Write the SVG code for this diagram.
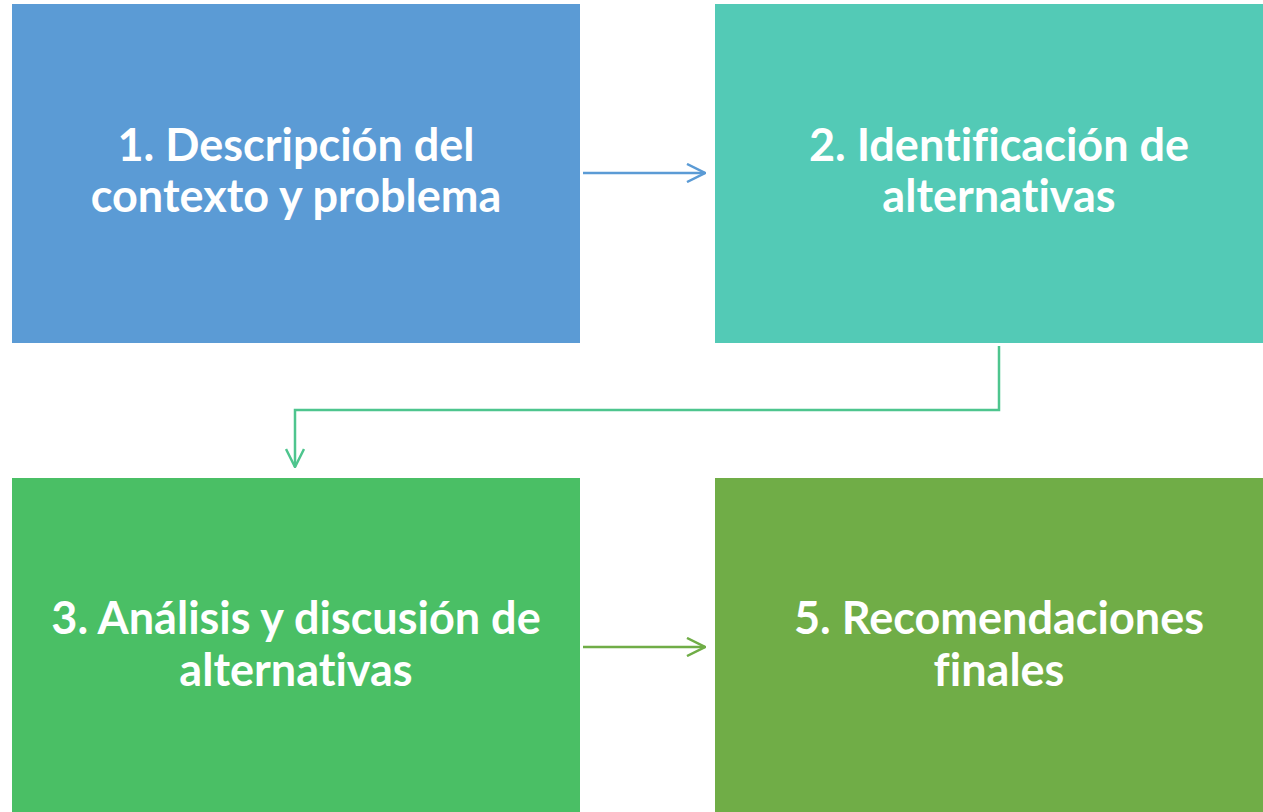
<svg xmlns="http://www.w3.org/2000/svg" width="1263" height="812" viewBox="0 0 1263 812">
<defs>
<style>
.lbl{font-family:Lato,"Liberation Sans",sans-serif;font-weight:bold;font-size:45px;fill:#ffffff;text-anchor:middle;font-variant-ligatures:none}
.c{fill:none;stroke-width:2.5}
</style>
<marker id="a1" viewBox="0 0 20 20" refX="19" refY="10" markerWidth="20" markerHeight="20" markerUnits="userSpaceOnUse" orient="auto"><path d="M1,1 L19,10 L1,19" fill="none" stroke="#5B9BD5" stroke-width="2.5"/></marker>
<marker id="a2" viewBox="0 0 20 20" refX="19" refY="10" markerWidth="20" markerHeight="20" markerUnits="userSpaceOnUse" orient="auto"><path d="M1,1 L19,10 L1,19" fill="none" stroke="#4EC58E" stroke-width="2.5"/></marker>
<marker id="a3" viewBox="0 0 20 20" refX="19" refY="10" markerWidth="20" markerHeight="20" markerUnits="userSpaceOnUse" orient="auto"><path d="M1,1 L19,10 L1,19" fill="none" stroke="#70AD47" stroke-width="2.5"/></marker>
</defs>
<rect width="1263" height="812" fill="#ffffff"/>
<g id="connectors">
<path class="c" d="M583,173 H705" stroke="#5B9BD5" marker-end="url(#a1)"/>
<path class="c" d="M999,346 V410 H295 V467" stroke="#4EC58E" marker-end="url(#a2)"/>
<path class="c" d="M583,647 H705" stroke="#70AD47" marker-end="url(#a3)"/>
</g>
<g id="n1">
<rect x="12" y="4" width="568" height="339" fill="#5B9BD5"/>
<text class="lbl" x="296" y="161">1. Descripción del</text>
<text class="lbl" x="296" y="212">contexto y problema</text>
</g>
<g id="n2">
<rect x="715" y="4" width="568" height="339" fill="#53CAB6"/>
<text class="lbl" x="999" y="161">2. Identificación de</text>
<text class="lbl" x="999" y="212">alternativas</text>
</g>
<g id="n3">
<rect x="12" y="478" width="568" height="334" fill="#4ABF65"/>
<text class="lbl" x="296" y="634">3. Análisis y discusión de</text>
<text class="lbl" x="296" y="686">alternativas</text>
</g>
<g id="n4">
<rect x="715" y="478" width="568" height="334" fill="#70AD47"/>
<text class="lbl" x="999" y="634">5. Recomendaciones</text>
<text class="lbl" x="999" y="686">finales</text>
</g>
</svg>
